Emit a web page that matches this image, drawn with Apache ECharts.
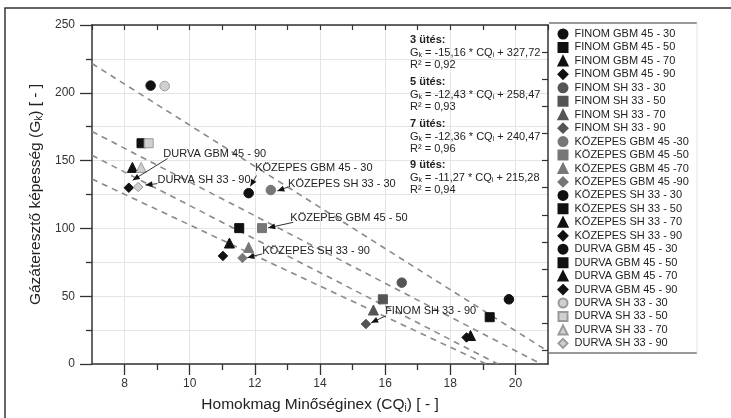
<!DOCTYPE html>
<html><head><meta charset="utf-8">
<script src="https://cdn.jsdelivr.net/npm/echarts@6/dist/echarts.min.js"></script>
<style>html,body{margin:0;padding:0;background:#fff}#c{width:731px;height:418px}</style>
</head><body><div id="c"></div>
<script>
// ---------- data ----------
const seriesNames = [
  'FINOM GBM 45 - 30','FINOM GBM 45 - 50','FINOM GBM 45 - 70','FINOM GBM 45 - 90',
  'FINOM SH 33 - 30','FINOM SH 33 - 50','FINOM SH 33 - 70','FINOM SH 33 - 90',
  'KÖZEPES GBM 45 -30','KÖZEPES GBM 45 -50','KÖZEPES GBM 45 -70','KÖZEPES GBM 45 -90',
  'KÖZEPES SH 33 - 30','KÖZEPES SH 33 - 50','KÖZEPES SH 33 - 70','KÖZEPES SH 33 - 90',
  'DURVA GBM 45 - 30','DURVA GBM 45 - 50','DURVA GBM 45 - 70','DURVA GBM 45 - 90',
  'DURVA SH 33 - 30','DURVA SH 33 - 50','DURVA SH 33 - 70','DURVA SH 33 - 90'
];
const cqValues = [
  19.80, 19.21, 18.62, 18.50,
  16.51, 15.93, 15.64, 15.41,
  12.49, 12.22, 11.81, 11.62,
  11.81, 11.52, 11.22, 11.02,
  8.80, 8.52, 8.24, 8.13,
  9.23, 8.74, 8.51, 8.42
];
const gkValues = [
  47.7, 34.5, 21.0, 19.6,
  60.0, 47.7, 39.8, 29.5,
  128.3, 100.2, 86.0, 78.2,
  126.0, 100.2, 89.2, 79.7,
  205.3, 162.8, 145.0, 130.0,
  205.0, 162.8, 145.0, 130.5
];
// trend lines (endpoints)
const trendNames = ['3 ütés','5 ütés','7 ütés','9 ütés'];
const trendX = [[7, 21], [7, 20.79], [7, 19.46], [7, 19.10]];
const trendY = [[221.6, 9.36], [171.5, 0], [153.9, 0], [136.4, 0]];
const xTickLabels = [8, 10, 12, 14, 16, 18, 20];
const xMinorTicks = [9, 11, 13, 15, 17, 19];
const equationTexts = [
  ['3 ütés:', '-15,16', '327,72', '0,92'],
  ['5 ütés:', '-12,43', '258,47', '0,93'],
  ['7 ütés:', '-12,36', '240,47', '0,96'],
  ['9 ütés:', '-11,27', '215,28', '0,94']
];
// annotations: text, text anchor (data), line start (data), arrow tip (data)
const annoTexts = ['DURVA GBM 45 - 90','DURVA SH 33 - 90','KÖZEPES GBM 45 - 30','KÖZEPES SH 33 - 30','KÖZEPES GBM 45 - 50','KÖZEPES SH 33 - 90','FINOM SH 33 - 90'];
const annoTextPos = [[9.19,154.7],[9.01,135.6],[12.01,144.4],[13.02,132.7],[13.09,107.8],[12.23,83.6],[16.0,38.9]];
const annoLineStart = [[9.32,151.5],[9.01,133.0],[12.05,139.0],[13.02,130.5],[13.18,104.5],[12.23,81.2],[16.02,35.5]];
const annoTip = [[8.25,135.6],[8.64,132.0],[11.86,131.0],[12.69,127.6],[12.41,100.4],[11.77,78.4],[15.57,30.4]];

// ---------- styles ----------
const symbolCycle = ['circle','rect','triangle','diamond'];
const symbolSizes = [9.5, 9, 10, 9.5];
const groupColors = ['#111','#555','#777','#111','#111','#d0d0d0'];
const groupBorders = ['#111','#555','#777','#111','#111','#9a9a9a'];
const FONT = 'Liberation Sans, Arial, sans-serif';

const chart = echarts.init(document.getElementById('c'), null, {renderer:'canvas'});

const series = [];
trendNames.forEach((n, i) => {
  series.push({
    type:'line', name:n, silent:true, symbol:'none', z:2,
    data: trendX[i].map((x, j) => [x, trendY[i][j]]),
    lineStyle:{color:'#8a8a8a', width:1.6, type:[6,5]}
  });
});
seriesNames.forEach((n, i) => {
  const g = Math.floor(i / 4);
  series.push({
    type:'scatter', name:n, z:5,
    symbol: symbolCycle[i % 4],
    symbolSize: symbolSizes[i % 4],
    data:[[cqValues[i], gkValues[i]]],
    itemStyle:{color:groupColors[g], borderColor:groupBorders[g], borderWidth:1, opacity:1}
  });
});

const axisLineStyle = {color:'#333', width:1.5};
const option = {
  backgroundColor:'#fff',
  animation:false,
  textStyle:{fontFamily:FONT},
  grid:{left:92, right:183, top:25, bottom:52, show:true, backgroundColor:'#fff', borderWidth:0},
  legend:{
    orient:'vertical', left:557.5, top:28.5, padding:0, itemWidth:9, itemHeight:9, itemGap:2.45,
    selectedMode:false, data:seriesNames,
    textStyle:{fontSize:11, color:'#222', fontFamily:FONT, padding:[0,0,0,2]}
  },
  xAxis:[
    {type:'value', min:7, max:21, interval:1, position:'bottom',
     name:'Homokmag Minőséginex (CQ{s|i}) [ - ]', nameLocation:'middle', nameGap:32,
     nameTextStyle:{fontSize:15.5, color:'#222', fontFamily:FONT, rich:{s:{fontSize:10, padding:[7,0,0,0], color:'#222'}}},
     axisLine:{show:true, onZero:false, lineStyle:axisLineStyle},
     axisTick:{show:true, length:6, customValues:xMinorTicks, lineStyle:{color:'#333', width:1.3}},
     axisLabel:{customValues:xTickLabels, fontSize:12, color:'#333', margin:14, fontFamily:FONT},
     splitLine:{show:false}},
    {type:'value', min:7, max:21, interval:1, position:'bottom',
     axisLine:{show:false}, axisLabel:{show:false},
     axisTick:{show:true, length:11, customValues:xTickLabels, lineStyle:{color:'#333', width:1.3}},
     splitLine:{show:true, lineStyle:{color:'#e4e4e4', width:1}}},
    {type:'value', min:7, max:21, interval:1, position:'top',
     axisLine:{show:true, onZero:false, lineStyle:axisLineStyle}, axisLabel:{show:false},
     axisTick:{show:true, inside:true, length:5, lineStyle:{color:'#333', width:1.2}},
     splitLine:{show:false}}
  ],
  yAxis:[
    {type:'value', min:0, max:250, interval:50, position:'left',
     name:'Gázáteresztő képesség (G{s|k}) [ - ]', nameLocation:'middle', nameGap:46, nameRotate:90,
     nameTextStyle:{fontSize:15.5, color:'#222', fontFamily:FONT, rich:{s:{fontSize:10, padding:[7,0,0,0], color:'#222'}}},
     axisLine:{show:true, onZero:false, lineStyle:axisLineStyle},
     axisTick:{show:true, length:12, lineStyle:{color:'#333', width:1.3}},
     minorTick:{show:true, splitNumber:2, length:6, lineStyle:{color:'#333', width:1.3}},
     axisLabel:{fontSize:12, color:'#333', margin:17, fontFamily:FONT},
     splitLine:{show:true, lineStyle:{color:'#e4e4e4'}},
     minorSplitLine:{show:true, lineStyle:{color:'#e4e4e4'}}},
    {type:'value', min:0, max:250, interval:50, position:'right',
     axisLine:{show:true, onZero:false, lineStyle:axisLineStyle}, axisLabel:{show:false},
     axisTick:{show:true, inside:true, length:6, customValues:[10,30,50,70,90,110,130,150,170,190,210,230], lineStyle:{color:'#333', width:1.2}},
     splitLine:{show:false}}
  ],
  series: series.map(s => Object.assign(s, {xAxisIndex:0, yAxisIndex:0}))
};
chart.setOption(option);

// ---------- graphics: frame, legend box, equations, annotations ----------
const graphic = [];
graphic.push({type:'rect', shape:{x:5, y:8, width:740, height:430}, style:{fill:'none', stroke:'#333', lineWidth:1.5}, z:0, silent:true});
graphic.push({type:'line', shape:{x1:549, y1:23, x2:697, y2:23}, style:{stroke:'#999', lineWidth:2}, z:10});
graphic.push({type:'line', shape:{x1:549, y1:353, x2:697, y2:353}, style:{stroke:'#999', lineWidth:2}, z:10});
graphic.push({type:'line', shape:{x1:697, y1:23, x2:697, y2:353}, style:{stroke:'#e2e2e2', lineWidth:1}, z:10});

const eqTops = [34, 76, 118, 159];
equationTexts.forEach((e, i) => {
  graphic.push({
    type:'text', left:410, top:eqTops[i], z:20,
    style:{
      text:'{b|' + e[0] + '}\nG{s|k} = ' + e[1] + ' * CQ{s|i} + ' + e[2] + '\nR² = ' + e[3],
      fontSize:11, fontFamily:FONT, fill:'#222', lineHeight:12.5,
      rich:{b:{fontSize:11, fontWeight:'bold', fill:'#222', lineHeight:12.5}, s:{fontSize:7, fill:'#222', padding:[5,0,0,0]}}
    }
  });
});

annoTexts.forEach((t, i) => {
  const tp = chart.convertToPixel({xAxisIndex:0, yAxisIndex:0}, annoTextPos[i]);
  const ls = chart.convertToPixel({xAxisIndex:0, yAxisIndex:0}, annoLineStart[i]);
  const tip = chart.convertToPixel({xAxisIndex:0, yAxisIndex:0}, annoTip[i]);
  graphic.push({type:'text', x:tp[0], y:tp[1], z:20,
    style:{text:t, fontSize:11, fontFamily:FONT, fill:'#222', verticalAlign:'middle', align:'left'}});
  graphic.push({type:'line', shape:{x1:ls[0], y1:ls[1], x2:tip[0], y2:tip[1]}, style:{stroke:'#333', lineWidth:1}, z:20});
  const ang = Math.atan2(tip[1]-ls[1], tip[0]-ls[0]);
  const L = 7, W = 3;
  const bx = tip[0] - L*Math.cos(ang), by = tip[1] - L*Math.sin(ang);
  graphic.push({type:'polygon', z:20, shape:{points:[
    [tip[0], tip[1]],
    [bx + W*Math.sin(ang), by - W*Math.cos(ang)],
    [bx - W*Math.sin(ang), by + W*Math.cos(ang)]
  ]}, style:{fill:'#111'}});
});
chart.setOption({graphic: graphic});
</script>
</body></html>
